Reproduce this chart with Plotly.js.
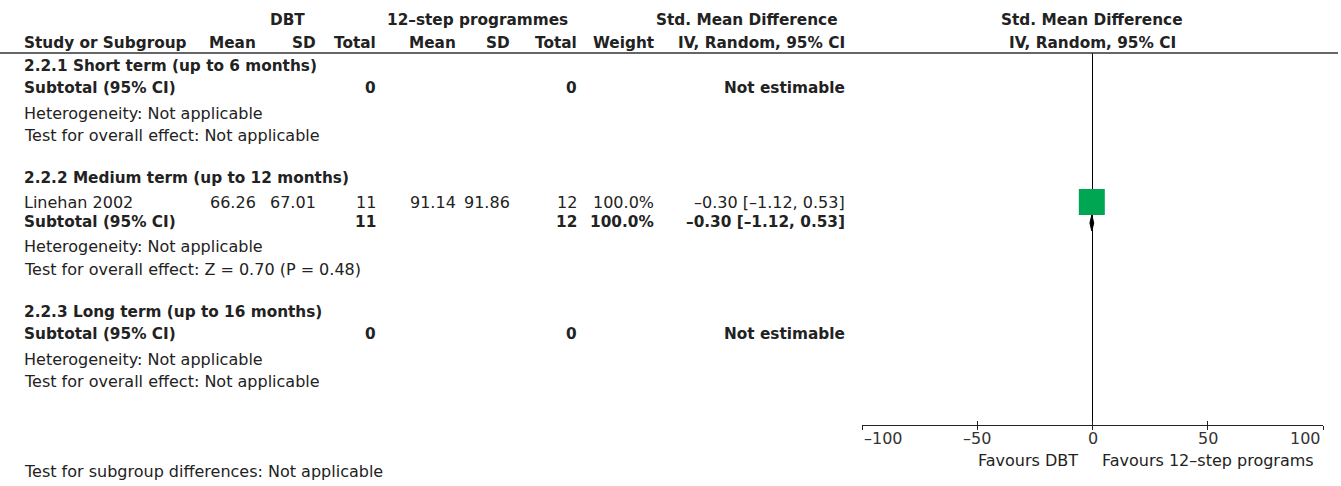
<!DOCTYPE html>
<html><head><meta charset="utf-8">
<script src="https://cdn.plot.ly/plotly-3.0.1.min.js"></script>
<style>body{margin:0;background:#fff}#chart{width:1341px;height:486px}</style>
</head><body><div id="chart"></div>
<script>
// ---- data ----
const subgroupNames=["2.2.1 Short term (up to 6 months)","2.2.2 Medium term (up to 12 months)","2.2.3 Long term (up to 16 months)"];
const studies=["Linehan 2002"];
const studySubgroup=[1];
const dbtMean=[66.26];
const dbtSD=[67.01];
const dbtTotal=[11];
const tsMean=[91.14];
const tsSD=[91.86];
const tsTotal=[12];
const studyWeight=[100.0];
const studySMD=[-0.30];
const studyLo=[-1.12];
const studyHi=[0.53];
const subDbtTotal=[0,11,0];
const subTsTotal=[0,12,0];
const subWeight=[null,100.0,null];
const subSMD=[null,-0.30,null];
const subLo=[null,-1.12,null];
const subHi=[null,0.53,null];
const heterogeneity=["Not applicable","Not applicable","Not applicable"];
const overallEffect=["Not applicable","Z = 0.70 (P = 0.48)","Not applicable"];
const subgroupDiff="Not applicable";
const xTicks=[-100,-50,0,50,100];
const favoursLeft="Favours DBT", favoursRight="Favours 12\u2013step programs";

// ---- layout helpers ----
const W=1341,H=486;
const FONT="DejaVu Sans";
const FS=16, FSB=15.3;
const COL="#222";
const px=x=>x/W, py=y=>1-y/H;
const colX={name:22,mean1:258,sd1:318,tot1:378,mean2:458,sd2:512,tot2:579,weight:656,ci:847};
const ann=[];
function t(text,x,y,anchor,bold){
  ann.push({text:bold?'<b>'+text+'</b>':text,x:px(x),y:py(y),xref:'paper',yref:'paper',
    xanchor:anchor,yanchor:'middle',showarrow:false,font:{family:FONT,size:bold?FSB:FS,color:COL}});
}
const m=s=>String(s).replace(/-/g,'\u2013');
const fmt=v=>m(v.toFixed(2));
const ciTxt=(e,l,h)=>fmt(e)+' ['+fmt(l)+', '+fmt(h)+']';

// headers
t('DBT',287,20,'center',true);
t('12\u2013step programmes',477,20,'center',true);
t('Std. Mean Difference',840,20,'right',true);
t('Study or Subgroup',colX.name,43,'left',true);
t('Mean',colX.mean1,43,'right',true);
t('SD',colX.sd1,43,'right',true);
t('Total',colX.tot1,43,'right',true);
t('Mean',colX.mean2,43,'right',true);
t('SD',colX.sd2,43,'right',true);
t('Total',colX.tot2,43,'right',true);
t('Weight',colX.weight,43,'right',true);
t('IV, Random, 95% CI',colX.ci,43,'right',true);
t('Std. Mean Difference',1092,20,'center',true);
t('IV, Random, 95% CI',1092,43,'center',true);

// rows
const sqX=[],sqY=[],sqLo=[],sqHi=[];
const dia=[];
let y=66;
subgroupNames.forEach((g,gi)=>{
  t(g,colX.name,y,'left',true);
  let last=null;
  let ry=y+25;
  studies.forEach((s,si)=>{
    if(studySubgroup[si]!==gi)return;
    t(s,colX.name,ry,'left',false);
    t(dbtMean[si].toFixed(2),colX.mean1,ry,'right');
    t(dbtSD[si].toFixed(2),colX.sd1,ry,'right');
    t(String(dbtTotal[si]),colX.tot1,ry,'right');
    t(tsMean[si].toFixed(2),colX.mean2,ry,'right');
    t(tsSD[si].toFixed(2),colX.sd2,ry,'right');
    t(String(tsTotal[si]),colX.tot2,ry,'right');
    t(studyWeight[si].toFixed(1)+'%',colX.weight,ry,'right');
    t(ciTxt(studySMD[si],studyLo[si],studyHi[si]),colX.ci,ry,'right');
    sqX.push(studySMD[si]);sqY.push(ry-1);sqLo.push(studySMD[si]-studyLo[si]);sqHi.push(studyHi[si]-studySMD[si]);
    last=ry; ry+=25;
  });
  const sy= last===null? y+22 : last+19;
  t('Subtotal (95% CI)',colX.name,sy,'left',true);
  t(String(subDbtTotal[gi]),colX.tot1,sy,'right',true);
  t(String(subTsTotal[gi]),colX.tot2,sy,'right',true);
  if(subSMD[gi]===null){
    t('Not estimable',colX.ci,sy,'right',true);
  } else {
    t(subWeight[gi].toFixed(1)+'%',colX.weight,sy,'right',true);
    t(ciTxt(subSMD[gi],subLo[gi],subHi[gi]),colX.ci,sy,'right',true);
    dia.push({e:subSMD[gi],l:subLo[gi],h:subHi[gi],y:sy+1});
  }
  t('Heterogeneity: '+heterogeneity[gi],colX.name,sy+25,'left');
  t('Test for overall effect: '+overallEffect[gi],colX.name,sy+47,'left');
  y=sy+47+43;
});
t('Test for subgroup differences: '+subgroupDiff,colX.name,471,'left');
t(favoursLeft,1080,460,'right');
t(favoursRight,1100,460,'left');

// tick labels placed on the x axis scale, end labels kept inside the axis
xTicks.forEach((v,i)=>{
  ann.push({text:m(v),x:v,xref:'x',y:py(438),yref:'paper',showarrow:false,yanchor:'middle',
    xanchor:i===0?'left':(i===xTicks.length-1?'right':'center'),font:{family:FONT,size:FS,color:'#333'}});
});

const traces=[];
dia.forEach(d=>{
  traces.push({type:'scatter',mode:'lines',x:[d.l,d.e,d.h,d.e,d.l],y:[d.y,d.y-8,d.y,d.y+8,d.y],
    fill:'toself',fillcolor:'#000',line:{color:'#000',width:1},hoverinfo:'skip',showlegend:false});
});
traces.push({type:'scatter',mode:'markers',x:sqX,y:sqY,
  error_x:{type:'data',symmetric:false,array:sqHi,arrayminus:sqLo,color:'#000',thickness:1,width:0},
  marker:{symbol:'square',size:26,color:'#00a651',line:{width:0}},showlegend:false,hoverinfo:'skip'});
traces.push({type:'scatter',x:[0],y:[300],xaxis:'x2',mode:'markers',marker:{opacity:0},showlegend:false,hoverinfo:'skip'});

const xl=862,xr=1323,yt=53,yb=425;
const layout={
  width:W,height:H,margin:{l:0,r:0,t:0,b:0},paper_bgcolor:'#fff',plot_bgcolor:'rgba(0,0,0,0)',
  showlegend:false,
  xaxis:{domain:[px(xl),px(xr)],range:[-100,100],tickvals:xTicks,showticklabels:false,
    ticks:'outside',ticklen:4,tickwidth:1,tickcolor:'#222',showline:true,linecolor:'#222',linewidth:1,
    showgrid:false,zeroline:true,zerolinecolor:'#000',zerolinewidth:1,anchor:'y',fixedrange:true},
  xaxis2:{domain:[px(xl),px(xr)],range:[-100,100],overlaying:'x',anchor:'y',tickvals:xTicks,
    ticks:'inside',ticklen:4,tickwidth:1,tickcolor:'#222',showticklabels:false,showgrid:false,zeroline:false,showline:false},
  yaxis:{domain:[py(yb),py(yt)],range:[yb,yt],visible:false,fixedrange:true},
  shapes:[{type:'line',xref:'paper',yref:'paper',x0:0,x1:px(1338),y0:py(yt),y1:py(yt),line:{color:'#333',width:1.5}}],
  annotations:ann
};
Plotly.newPlot('chart',traces,layout,{staticPlot:true,displayModeBar:false});
</script></body></html>
